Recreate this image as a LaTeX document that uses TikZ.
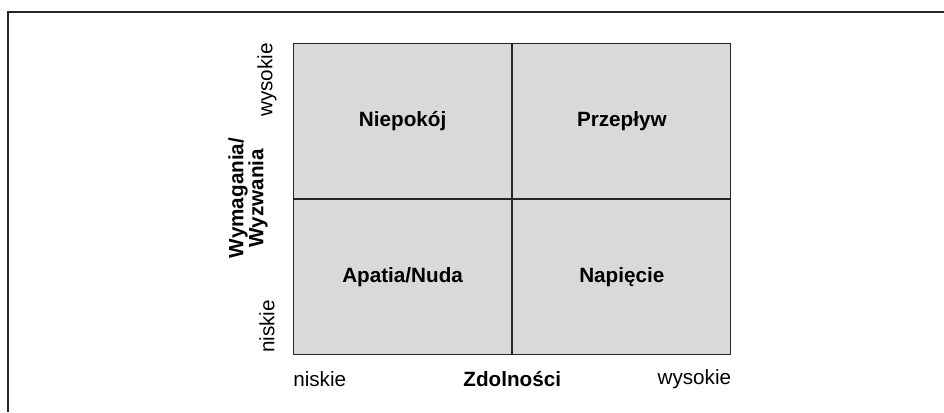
\documentclass[tikz,border=0pt]{standalone}
\usepackage{fontspec}
\setmainfont{Liberation Sans}
\usetikzlibrary{positioning}
\definecolor{cellgray}{HTML}{D9D9D9}
\definecolor{framegray}{HTML}{262626}
\newcommand\labelsize{\fontsize{15.5}{18}\selectfont}
\tikzset{
  cell/.style = {draw=framegray, fill=cellgray, line width=0.9pt, inner sep=0pt,
    minimum width=163.5pt, minimum height=116.25pt, font=\labelsize\bfseries},
  axislabel/.style = {inner sep=0pt},
}

\begin{document}
\begin{tikzpicture}[x=0.75pt, y=-0.75pt, font=\labelsize]
\useasboundingbox (0,0) rectangle (944,412);
\draw[framegray, line width=1.5pt] (944,12) -- (8,12) -- (8,412);
% the four quadrants
\node[cell, anchor=north west] (np) at (293,43) {Niepokój};
\node[cell, right=0pt of np] (pr) {Przepływ};
\node[cell, below=0pt of np] (an) {Apatia/Nuda};
\node[cell, right=0pt of an] (na) {Napięcie};
% vertical axis
\node[axislabel, rotate=90, anchor=east] (vhi) at (267,43) {wysokie};
\node[axislabel, rotate=90, anchor=west] (vlo) at (267,353) {niskie};
\node[axislabel, rotate=90, align=center, font=\fontsize{15.5}{15}\selectfont\bfseries] (vax) at (248,198) {Wymagania/\\Wyzwania};
% horizontal axis
\node[axislabel, anchor=west] (hlo) at (an.south west |- 0,379) {niskie};
\node[axislabel, anchor=east] (hhi) at (na.south east |- 0,379) {wysokie};
\node[axislabel, font=\labelsize\bfseries] (hax) at (an.south east |- 0,379) {Zdolności};
\end{tikzpicture}
\end{document}
